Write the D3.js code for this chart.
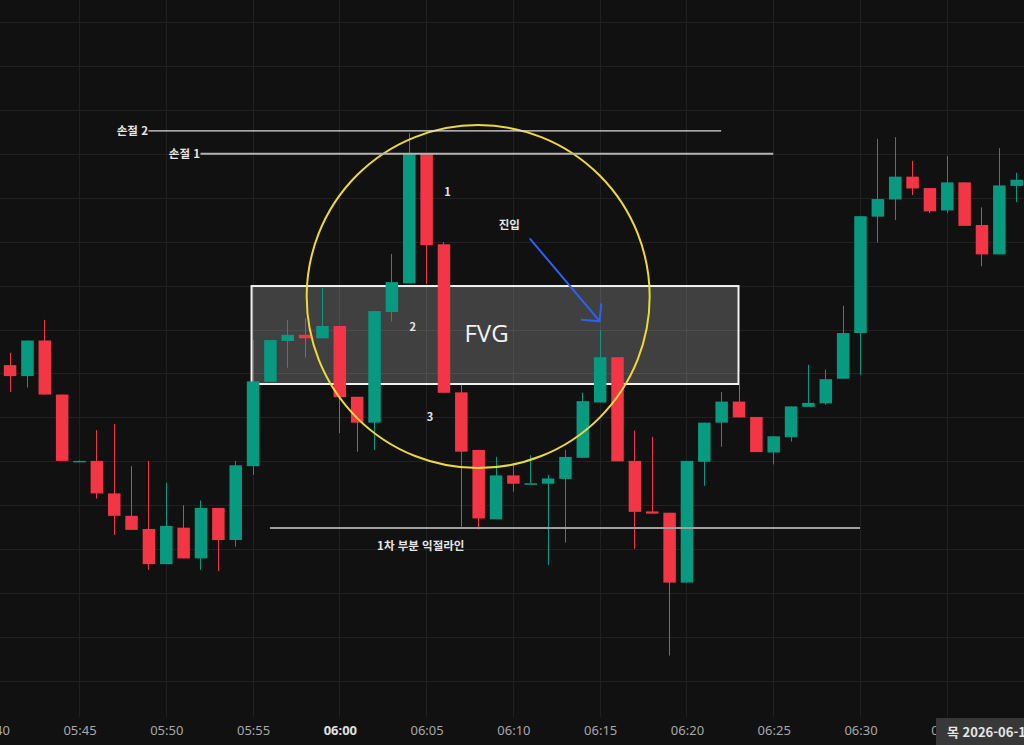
<!DOCTYPE html>
<html lang="ko">
<head>
<meta charset="UTF-8">
<title>FVG 진입 차트</title>
<script src="https://cdn.jsdelivr.net/npm/d3@7"></script>
<style>
    html, body {
        margin: 0;
        padding: 0;
        background: #111111;
        overflow: hidden;
    }
    svg { display: block; }
    .note { font-family: "Noto Sans CJK KR", "Noto Sans", sans-serif; fill: #e6e6e6; font-weight: 700; }
    .axis text { font-family: "Noto Sans", "Noto Sans CJK KR", sans-serif; }
</style>
</head>
<body>
<div id="chart"></div>
<script>
    // 1분봉 데이터 (05:41 ~ 06:39)
    const times = ["05:41","05:42","05:43","05:44","05:45","05:46","05:47","05:48","05:49","05:50",
        "05:51","05:52","05:53","05:54","05:55","05:56","05:57","05:58","05:59","06:00",
        "06:01","06:02","06:03","06:04","06:05","06:06","06:07","06:08","06:09","06:10",
        "06:11","06:12","06:13","06:14","06:15","06:16","06:17","06:18","06:19","06:20",
        "06:21","06:22","06:23","06:24","06:25","06:26","06:27","06:28","06:29","06:30",
        "06:31","06:32","06:33","06:34","06:35","06:36","06:37","06:38","06:39"];
    const opens  = [171.9,169.4,177.5,165.2,150.0,150.1,142.7,137.6,134.6,126.6,
        134.9,127.9,139.4,132.1,148.9,168.1,177.4,178.8,178.0,180.8,
        164.7,158.8,184.0,190.5,220.0,199.4,165.7,152.6,136.8,146.8,
        144.9,144.9,146.0,150.8,163.4,173.7,150.1,138.6,138.3,122.4,
        149.9,158.8,163.6,160.1,152.0,155.5,162.4,163.2,168.8,179.2,
        205.7,209.6,214.8,212.2,207.1,213.5,203.8,197.1,212.7];
    const highs  = [174.7,177.5,182.2,165.2,150.2,157.1,158.5,148.9,150.1,145.1,
        140.0,141.1,139.4,150.1,177.6,177.6,182.2,182.6,189.5,180.8,
        164.7,184.2,197.2,224.7,220.0,199.9,167.4,152.6,151.0,149.6,
        151.4,146.9,152.6,165.6,179.9,173.7,157.0,155.6,138.3,150.1,
        158.8,165.8,170.4,160.1,155.7,162.5,172.0,170.9,185.4,205.8,
        223.4,223.8,218.4,212.2,219.5,213.5,207.8,221.3,215.7];
    const lows   = [165.8,166.8,165.2,150.1,150.0,141.5,133.2,134.4,125.3,126.6,
        127.9,125.3,125.0,130.6,146.9,168.1,171.3,173.6,178.0,156.4,
        152.2,152.6,181.8,190.5,190.4,165.6,135.1,134.5,136.8,143.1,
        144.9,126.4,131.5,150.8,163.4,150.0,130.1,138.1,105.8,122.4,
        144.4,153.3,160.0,152.1,149.3,154.5,162.4,162.9,168.8,169.6,
        199.8,204.9,210.6,206.5,206.5,203.6,194.4,197.1,209.0];
    const closes = [169.4,177.5,165.2,150.1,150.1,142.7,137.6,134.4,126.6,135.3,
        127.9,139.4,132.1,149.1,168.2,177.6,178.8,178.0,180.8,164.6,
        158.8,184.2,190.8,220.0,199.2,165.6,152.2,137.0,146.8,144.9,
        145.0,146.1,151.0,163.7,173.7,150.0,138.5,138.1,122.4,150.1,
        158.8,163.6,160.0,152.1,155.7,162.5,163.3,168.7,179.2,205.8,
        209.7,214.8,212.1,206.9,213.5,203.6,197.1,212.8,214.1];

    // 주석용 가격 / 시간
    const stopLevels = [
        { label: "손절 2", price: 225.2, from: "05:49", to: "06:22" },
        { label: "손절 1", price: 220.0, from: "05:52", to: "06:25" }
    ];
    const takeProfit = { label: "1차 부분 익절라인", price: 134.8, from: "05:56", to: "06:30" };
    const fvgZone = { top: 189.9, bottom: 167.6, from: "05:55", to: "06:23" };
    const circleCenter = { time: "06:08", price: 187.5 };
    const entryArrow = { from: ["06:11", 200.6], to: ["06:15", 181.9] };
    const candleMarks = [["1", "06:06", 211.3], ["2", "06:04", 180.6], ["3", "06:05", 160.1]];
    const dateLabel = "목 2026-06-11 06:36";

    const width = 1024, height = 745, plotBottom = 717;

    const parse = s => {
        const [h, m] = s.split(":").map(Number);
        return new Date(2026, 5, 11, h, m);
    };

    const candles = times.map((t, i) => ({
        t: parse(t), o: opens[i], h: highs[i], l: lows[i], c: closes[i]
    }));

    const x = d3.scaleTime()
        .domain([parse("05:45"), parse("06:30")])
        .range([79, 860]);
    const y = d3.scaleLinear()
        .domain([100, 250])
        .range([681, 22]);

    const svg = d3.select("#chart").append("svg")
        .attr("width", width)
        .attr("height", height);

    svg.append("rect").attr("width", width).attr("height", height).attr("fill", "#111111");

    // grid
    const grid = svg.append("g");
    grid.selectAll(".h").data(d3.range(100, 251, 10))
        .enter().append("line")
        .attr("x1", 0).attr("x2", width)
        .attr("y1", d => Math.round(y(d)) + 0.5).attr("y2", d => Math.round(y(d)) + 0.5)
        .attr("stroke", "#212121");
    const vTicks = d3.timeMinute.every(5).range(parse("05:40"), parse("06:40"));
    grid.selectAll(".v").data(vTicks)
        .enter().append("line")
        .attr("x1", d => Math.round(x(d)) + 0.5).attr("x2", d => Math.round(x(d)) + 0.5)
        .attr("y1", 0).attr("y2", plotBottom)
        .attr("stroke", "#212121");

    // FVG 박스 (캔들 뒤)
    svg.append("rect")
        .attr("x", x(parse(fvgZone.from)) - 1)
        .attr("y", y(fvgZone.top))
        .attr("width", x(parse(fvgZone.to)) - x(parse(fvgZone.from)) + 1)
        .attr("height", y(fvgZone.bottom) - y(fvgZone.top))
        .attr("fill", "#ffffff")
        .attr("fill-opacity", 0.2)
        .attr("stroke", "#f2f2f2")
        .attr("stroke-width", 2);

    // candles
    const bodyW = 12.5;
    const up = "#089981", down = "#f23645";
    const cg = svg.append("g");
    cg.selectAll(".wick").data(candles)
        .enter().append("line")
        .attr("x1", d => Math.round(x(d.t)) + 0.5).attr("x2", d => Math.round(x(d.t)) + 0.5)
        .attr("y1", d => y(d.h)).attr("y2", d => y(d.l))
        .attr("stroke", d => d.c >= d.o ? up : down)
        .attr("stroke-width", 1);
    cg.selectAll(".body").data(candles)
        .enter().append("rect")
        .attr("x", d => x(d.t) - bodyW / 2 + 0.5)
        .attr("y", d => y(Math.max(d.o, d.c)))
        .attr("width", bodyW)
        .attr("height", d => Math.max(1.5, Math.abs(y(d.o) - y(d.c))))
        .attr("fill", d => d.c >= d.o ? up : down);

    // FVG 텍스트
    svg.append("text")
        .attr("x", (x(parse(fvgZone.from)) + x(parse(fvgZone.to))) / 2 - 9)
        .attr("y", (y(fvgZone.top) + y(fvgZone.bottom)) / 2 + 7)
        .attr("text-anchor", "middle")
        .attr("font-family", "Open Sans, Noto Sans, sans-serif")
        .attr("font-size", 24)
        .attr("fill", "#f4f4f4")
        .text("FVG");

    // 노란 원
    svg.append("circle")
        .attr("cx", x(parse(circleCenter.time)))
        .attr("cy", y(circleCenter.price))
        .attr("r", 171.5)
        .attr("fill", "none")
        .attr("stroke", "#eed83a")
        .attr("stroke-width", 2);

    // 손절 라인
    stopLevels.forEach((s, i) => {
        const x1 = x(parse(s.from)), x2 = x(parse(s.to)), yy = y(s.price);
        svg.append("line")
            .attr("x1", x1).attr("x2", x2).attr("y1", yy).attr("y2", yy)
            .attr("stroke", i === 0 ? "#dcdcdc" : "#b4b4b4")
            .attr("stroke-width", i === 0 ? 1.3 : 2);
        svg.append("text").attr("class", "note")
            .attr("x", x1 - 0.5).attr("y", yy + 4)
            .attr("text-anchor", "end")
            .attr("font-size", 11.5)
            .text(s.label);
    });

    // 익절 라인
    {
        const yy = y(takeProfit.price);
        svg.append("line")
            .attr("x1", x(parse(takeProfit.from))).attr("x2", x(parse(takeProfit.to)))
            .attr("y1", yy).attr("y2", yy)
            .attr("stroke", "#a0a0a0").attr("stroke-width", 2);
        svg.append("text").attr("class", "note")
            .attr("x", x(parse("06:04")) + 12).attr("y", yy + 22)
            .attr("text-anchor", "middle")
            .attr("font-size", 11.5)
            .text(takeProfit.label);
    }

    // 캔들 번호
    svg.selectAll(".mark").data(candleMarks)
        .enter().append("text").attr("class", "note")
        .attr("x", d => x(parse(d[1])) + 4)
        .attr("y", d => y(d[2]) + 4)
        .attr("text-anchor", "middle")
        .attr("font-size", 11)
        .text(d => d[0]);

    // 진입 화살표
    {
        const ax1 = x(parse(entryArrow.from[0])), ay1 = y(entryArrow.from[1]);
        const ax2 = x(parse(entryArrow.to[0])), ay2 = y(entryArrow.to[1]);
        svg.append("path")
            .attr("d", `M${ax1},${ay1}L${ax2},${ay2}M${ax2 + 1.5},${ay2 - 17}L${ax2},${ay2}L${ax2 - 18},${ay2 - 1.5}`)
            .attr("fill", "none")
            .attr("stroke", "#2f5ff5")
            .attr("stroke-width", 2)
            .attr("stroke-linecap", "round")
            .attr("stroke-linejoin", "round");
        svg.append("text").attr("class", "note")
            .attr("x", ax1 - 21).attr("y", ay1 - 10)
            .attr("text-anchor", "middle")
            .attr("font-size", 11.5)
            .text("진입");
    }

    // 시간 축
    const axis = d3.axisBottom(x)
        .tickValues(vTicks)
        .tickFormat(d3.timeFormat("%H:%M"))
        .tickSize(0)
        .tickPadding(0);
    const ag = svg.append("g").attr("class", "axis")
        .attr("transform", `translate(0.5,${plotBottom + 9})`)
        .call(axis);
    ag.select(".domain").remove();
    ag.selectAll("text")
        .attr("font-size", 13)
        .attr("fill", d => d.getMinutes() === 0 ? "#e0e0e0" : "#a8a8a8")
        .attr("font-weight", d => d.getMinutes() === 0 ? 700 : 400);

    // 날짜 라벨 (크로스헤어 시간 표시, 축 라벨 위에 겹침)
    const dl = svg.append("g").attr("transform", "translate(936,718)");
    dl.append("rect").attr("width", 120).attr("height", 27).attr("fill", "#383838");
    dl.append("text")
        .attr("x", 11).attr("y", 19)
        .attr("font-family", "Noto Sans CJK KR, Noto Sans, sans-serif")
        .attr("font-size", 13)
        .attr("font-weight", 700)
        .attr("fill", "#e6e6e6")
        .text(dateLabel);
</script>
</body>
</html>
